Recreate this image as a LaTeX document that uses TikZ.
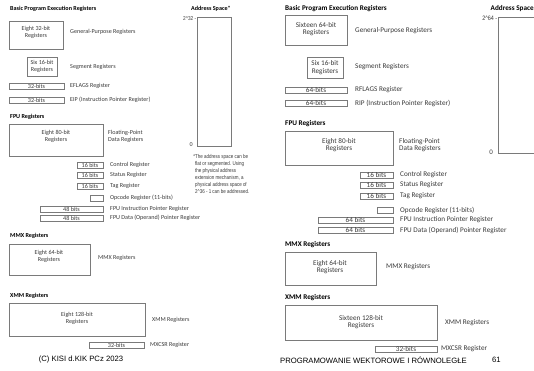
\documentclass[tikz,border=0pt]{standalone}
\usepackage{fontspec}
\setmainfont{Carlito}
\newfontfamily\arialf{Liberation Sans}
\definecolor{boxgray}{HTML}{7A7A7A}
\definecolor{txt}{HTML}{3A3A3A}
\begin{document}
\begin{tikzpicture}[x=1pt,y=-1pt,
  box/.style={draw=boxgray, line width=0.6pt, inner sep=0pt, outer sep=0pt, anchor=north west},
  lt/.style={font=\fontsize{6.1}{7}\selectfont, text=txt, inner sep=0pt, anchor=west},
  lttl/.style={font=\bfseries\fontsize{6.1}{7}\selectfont, text=black, inner sep=0pt, anchor=west},
  lbt/.style={font=\fontsize{6.1}{7}\selectfont, text=txt, inner sep=0pt, align=center},
  sboxl/.style={box, font=\fontsize{6.1}{7}\selectfont, text=txt, minimum height=6pt},
  rt/.style={font=\fontsize{7.2}{7.6}\selectfont, text=txt, inner sep=0pt, anchor=west},
  rttl/.style={font=\bfseries\fontsize{7.2}{8}\selectfont, text=black, inner sep=0pt, anchor=west},
  rbt/.style={font=\fontsize{7.2}{7.6}\selectfont, text=txt, inner sep=0pt, align=center},
  sboxr/.style={box, font=\fontsize{7.2}{8}\selectfont, text=txt, minimum height=6pt},
  note/.style={font=\arialf\fontsize{5.6}{7}\selectfont, text=txt, inner sep=0pt},
  foot/.style={font=\arialf\fontsize{7.7}{9}\selectfont, text=black, inner sep=0pt}
]
\useasboundingbox (0,0) rectangle (534,370);
\fill[white] (0,0) rectangle (534,370);

% ===================== LEFT PANEL (32-bit) =====================
\node[lttl] (lt1) at (10,9) {Basic Program Execution Registers};
\node[box, minimum width=54pt, minimum height=28pt] (lgp) at (9,21) {};
\node[lbt] (lgpt) at (36,32.5) {Eight 32-bit\\Registers};
\node[lt] (lgpl) at (70,32) {General-Purpose Registers};
\node[box, minimum width=30pt, minimum height=19pt] (lseg) at (27,57) {};
\node[lbt] (lsegt) at (lseg.center) {Six 16-bit\\Registers};
\node[lt] (lsegl) at (70,67) {Segment Registers};
\node[sboxl, minimum width=55pt] (lefl) at (9,83) {32-bits};
\node[lt] (lefll) at (70,86) {EFLAGS Register};
\node[sboxl, minimum width=55pt] (leip) at (9,97) {32-bits};
\node[lt] (leipl) at (70,100) {EIP (Instruction Pointer Register)};

\node[lttl] (lt2) at (10,117) {FPU Registers};
\node[box, minimum width=94pt, minimum height=32pt] (lfpu) at (9,124) {};
\node[lbt] (lfput) at (56,136.5) {Eight 80-bit\\Registers};
\node[lt, align=left] (lfpul) at (108,136.5) {Floating-Point\\Data Registers};
\node[sboxl, minimum width=26pt] (lctl) at (77,162) {16 bits};
\node[lt] (lctll) at (110,165) {Control Register};
\node[sboxl, minimum width=26pt] (lsta) at (77,172) {16 bits};
\node[lt] (lstal) at (110,175) {Status Register};
\node[sboxl, minimum width=26pt] (ltag) at (77,183) {16 bits};
\node[lt] (ltagl) at (110,186) {Tag Register};
\node[sboxl, minimum width=13pt] (lop) at (90,195) {};
\node[lt] (lopl) at (110,198) {Opcode Register (11-bits)};
\node[sboxl, minimum width=63pt] (lfip) at (40,206) {48 bits};
\node[lt] (lfipl) at (110,209) {FPU Instruction Pointer Register};
\node[sboxl, minimum width=63pt] (lfdp) at (40,215) {48 bits};
\node[lt] (lfdpl) at (110,218) {FPU Data (Operand) Pointer Register};

\node[lttl] (lt3) at (10,236) {MMX Registers};
\node[box, minimum width=81pt, minimum height=31pt] (lmmx) at (9,244) {};
\node[lbt] (lmmxt) at (49,256.5) {Eight 64-bit\\Registers};
\node[lt] (lmmxl) at (98,258) {MMX Registers};

\node[lttl] (lt4) at (10,296) {XMM Registers};
\node[box, minimum width=136pt, minimum height=33pt] (lxmm) at (9,303) {};
\node[lbt] (lxmmt) at (77,318.5) {Eight 128-bit\\Registers};
\node[lt] (lxmml) at (152,320) {XMM Registers};
\node[sboxl, minimum width=55pt] (lmx) at (89,342) {32-bits};
\node[lt] (lmxl) at (150,345) {MXCSR Register};

\node[foot] (lfoot) at (81,359) {(C) KISI d.KIK PCz 2023};

% left address space
\node[lttl] (las-t) at (191,9) {Address Space*};
\node[box, minimum width=34pt, minimum height=129pt] (las) at (197,17) {};
\node[note, anchor=east] (las-hi) at (196.5,18.5) {\scalebox{0.85}[1]{2\textasciicircum 32 -}};
\node[note, anchor=east] (las-lo) at (193,145) {0};
\node[note, anchor=north west] (lasn) at (195,153) {\scalebox{0.8}[1]{\begin{tabular}{@{}l@{}}\llap{*}The address space can be\\flat or segmented. Using\\the physical address\\extension mechanism, a\\physical address space of\\2\textasciicircum 36 - 1 can be addressed.\end{tabular}}};

% ===================== RIGHT PANEL (64-bit) =====================
\node[rttl] (rt1) at (285,9) {Basic Program Execution Registers};
\node[box, minimum width=62pt, minimum height=30pt] (rgp) at (285,15) {};
\node[rbt] (rgpt) at (316,29) {Sixteen 64-bit\\Registers};
\node[rt] (rgpl) at (355,31) {General-Purpose Registers};
\node[box, minimum width=36pt, minimum height=21pt] (rseg) at (307,57) {};
\node[rbt] (rsegt) at (rseg.center) {Six 16-bit\\Registers};
\node[rt] (rsegl) at (355,67) {Segment Registers};
\node[sboxr, minimum width=62pt] (rfl) at (285,87) {64-bits};
\node[rt] (rfll) at (355,90) {RFLAGS Register};
\node[sboxr, minimum width=62pt] (rip) at (285,100) {64-bits};
\node[rt] (ripl) at (355,103) {RIP (Instruction Pointer Register)};

\node[rttl] (rt2) at (285,124) {FPU Registers};
\node[box, minimum width=108pt, minimum height=34pt] (rfpu) at (285,131) {};
\node[rbt] (rfput) at (339,145) {Eight 80-bit\\Registers};
\node[rt, align=left] (rfpul) at (399,145) {Floating-Point\\Data Registers};
\node[sboxr, minimum width=33pt] (rctl) at (360,172) {16 bits};
\node[rt] (rctll) at (400,175) {Control Register};
\node[sboxr, minimum width=33pt] (rsta) at (360,182) {16 bits};
\node[rt] (rstal) at (400,185) {Status Register};
\node[sboxr, minimum width=33pt] (rtag) at (360,193) {16 bits};
\node[rt] (rtagl) at (400,196) {Tag Register};
\node[sboxr, minimum width=16pt] (rop) at (377,207) {};
\node[rt] (ropl) at (400,210) {Opcode Register (11-bits)};
\node[sboxr, minimum width=75pt] (rfip) at (318,217) {64 bits};
\node[rt] (rfipl) at (400,220) {FPU Instruction Pointer Register};
\node[sboxr, minimum width=75pt] (rfdp) at (318,227) {64 bits};
\node[rt] (rfdpl) at (400,230) {FPU Data (Operand) Pointer Register};

\node[rttl] (rt3) at (285,245) {MMX Registers};
\node[box, minimum width=91pt, minimum height=33pt] (rmmx) at (285,252) {};
\node[rbt] (rmmxt) at (330,267) {Eight 64-bit\\Registers};
\node[rt] (rmmxl) at (386,267) {MMX Registers};

\node[rttl] (rt4) at (285,298) {XMM Registers};
\node[box, minimum width=152pt, minimum height=35pt] (rxmm) at (285,305) {};
\node[rbt] (rxmmt) at (361,322) {Sixteen 128-bit\\Registers};
\node[rt] (rxmml) at (445,323) {XMM Registers};
\node[sboxr, minimum width=62pt] (rmx) at (375,346) {32-bits};
\node[rt] (rmxl) at (441,348.5) {MXCSR Register};

\node[foot, anchor=west] (rfoot) at (280,360) {PROGRAMOWANIE WEKTOROWE I RÓWNOLEGŁE};
\node[foot, anchor=west] (rpage) at (492,360) {61};

% right address space
\node[rttl] (ras-t) at (490.5,9) {Address Space};
\coordinate (rasa) at (540,17);
\coordinate (rasb) at (498,153);
\coordinate (rasc) at (540,153);
\draw[draw=boxgray, line width=0.6pt] (rasa) -| (rasb) -- (rasc);
\node[note, font=\arialf\fontsize{6.4}{7}\selectfont, anchor=east] (ras-hi) at (497.5,18.5) {\scalebox{0.85}[1]{2\textasciicircum 64 -}};
\node[note, font=\arialf\fontsize{6.4}{7}\selectfont, anchor=east] (ras-lo) at (493,152) {0};
\end{tikzpicture}
\end{document}
